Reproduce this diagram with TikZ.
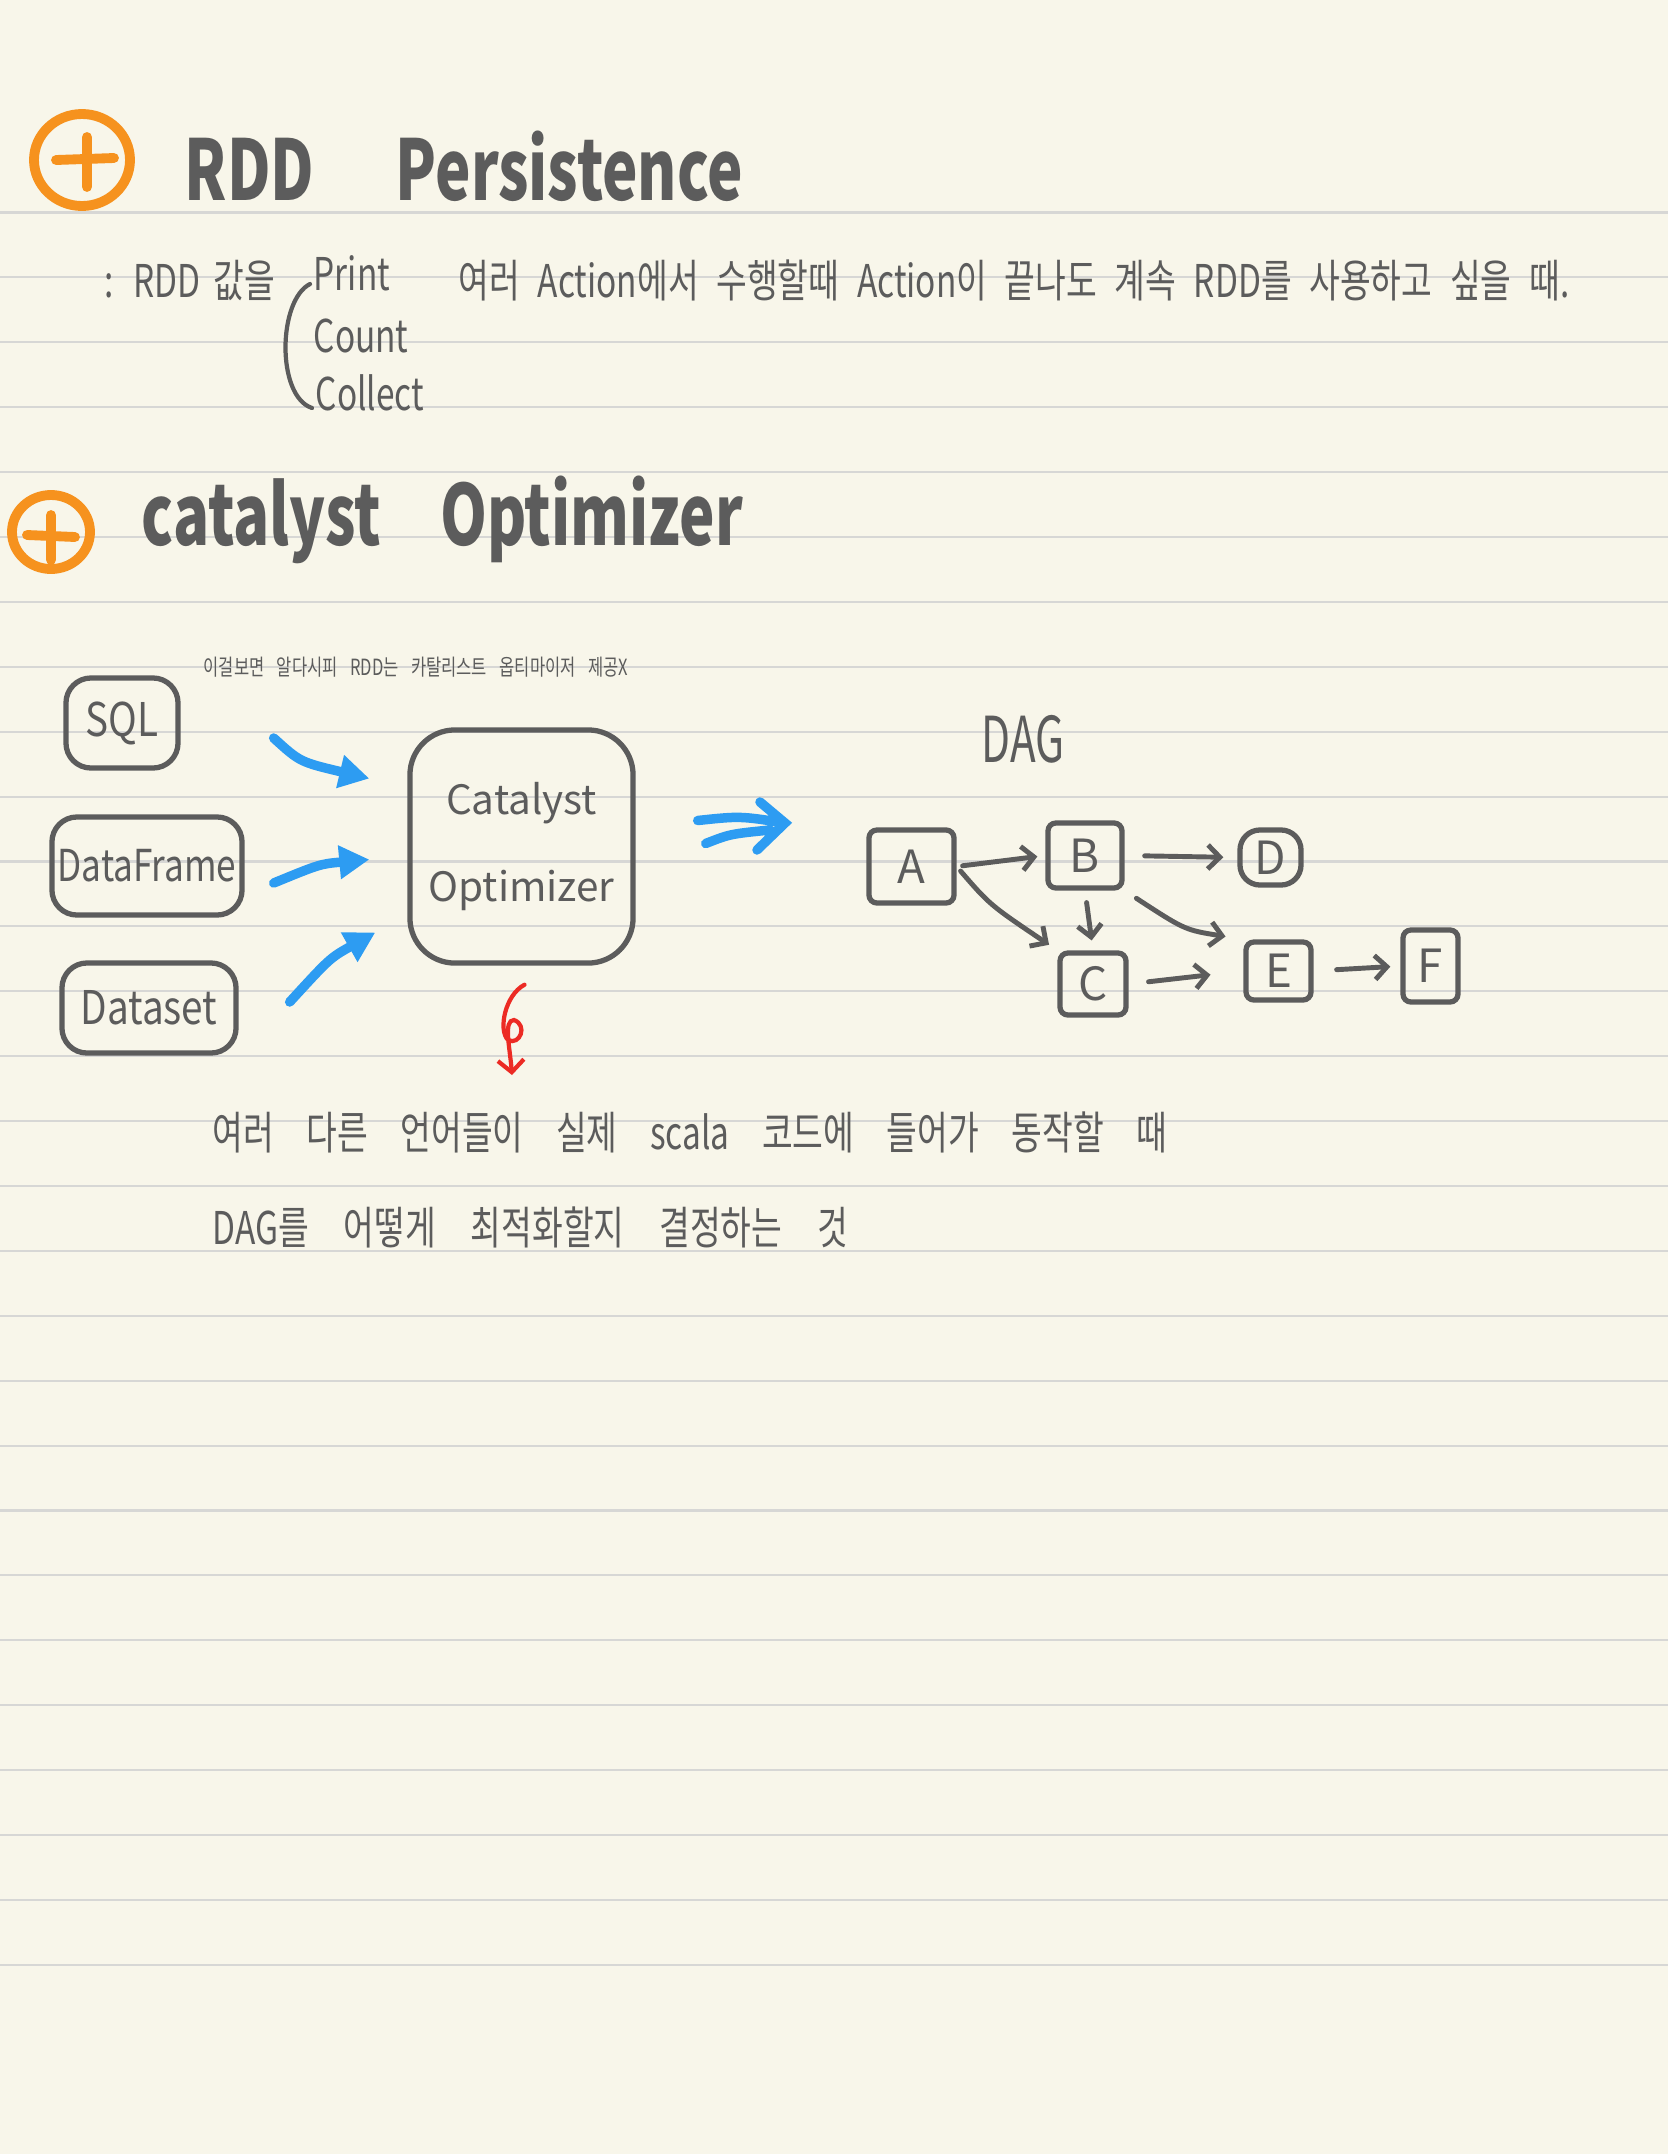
\documentclass[tikz,border=0pt]{standalone}
\usepackage{fontspec}
\setmainfont{Noto Sans CJK KR}
\usetikzlibrary{arrows.meta}

\definecolor{paper}{HTML}{F8F6EA}
\definecolor{ruleline}{HTML}{D7D7D5}
\definecolor{ink}{HTML}{5C5C5C}
\definecolor{orangeink}{HTML}{F6921E}
\definecolor{blueink}{HTML}{2D9CF2}
\definecolor{redink}{HTML}{EC2B24}

\newcommand\tall[2][1.35]{\scalebox{1}[#1]{#2}}
\newcommand\spread[3][1.35]{\tall[#1]{\makebox[#2][s]{#3}}}

\tikzset{
  title/.style={anchor=base west, inner sep=0, text=ink,
    font=\fontsize{17}{17}\selectfont\bfseries},
  note/.style={anchor=base west, inner sep=0, text=ink,
    font=\fontsize{9.5}{11}\selectfont},
  srcbox/.style={draw=ink, line width=1.5pt, rounded corners=0.25cm,
    inner sep=0, text=ink, font=\fontsize{11}{12}\selectfont},
  dagbox/.style={draw=ink, line width=1.5pt, rounded corners=0.08cm,
    inner sep=0, text=ink, font=\fontsize{13}{14}\selectfont},
  flow/.style={blueink, line width=2.7pt, line cap=round,
    -{Triangle[length=0.3cm,width=0.32cm]}},
  dagarrow/.style={ink, line width=1.4pt, line cap=round,
    -{Straight Barb[length=0.12cm,width=0.24cm]}},
  plusmark/.style={orangeink, line width=2.8pt, line cap=round}
}

\begin{document}
\begin{tikzpicture}[x=0.01cm, y=-0.01cm]
  % paper and ruled lines
  \fill[paper] (0,0) rectangle (1668,2154);
  \useasboundingbox (0,0) rectangle (1668,2154);
  \foreach \k in {0,...,27}
    \draw[ruleline, line width=0.6pt] (0,{212.5+64.9*\k}) -- (1668,{212.5+64.9*\k});

  % heading 1
  \draw[plusmark] (82,160) ellipse (48 and 46);
  \draw[plusmark] (56,160) -- (114,158) (87,137) -- (87,187);
  \node[title] (h1) at (184,200) {\spread[1.4]{5.58cm}{RDD Persistence}};

  % RDD note
  \node[note] (rddval) at (104,297) {\spread{1.70cm}{: RDD 값을}};
  \draw[ink, line width=1.2pt, line cap=round] (310,284) .. controls (278,300) and (276,396) .. (312,408);
  \node[note] (print) at (313,290) {\tall{Print}};
  \node[note] (count) at (313,352) {\tall{Count}};
  \node[note] (collect) at (315,410) {\tall{Collect}};
  \node[note] (persist) at (458,297) {\spread{11.10cm}{여러 Action에서 수행할때 Action이 끝나도 계속 RDD를 사용하고 싶을 때.}};

  % heading 2
  \draw[plusmark] (51,532) ellipse (39 and 37);
  \draw[plusmark] (27,535) -- (75,537) (51,515) -- (51,560);
  \node[title] (h2) at (141,545) {\spread[1.4]{6.01cm}{catalyst Optimizer}};

  \node[note, font=\fontsize{4.7}{6}\selectfont] (aside) at (203,675)
    {\spread{4.24cm}{이걸보면 알다시피 RDD는 카탈리스트 옵티마이저 제공X}};

  % sources and optimizer
  \node[srcbox, minimum width=1.12cm, minimum height=0.90cm] (sql) at (122,723) {\tall[1.2]{SQL}};
  \node[srcbox, minimum width=1.90cm, minimum height=0.98cm, font=\fontsize{10}{12}\selectfont] (df) at (147,866) {\tall[1.25]{DataFrame}};
  \node[srcbox, minimum width=1.74cm, minimum height=0.90cm] (ds) at (149,1008) {\tall[1.2]{Dataset}};
  \node[srcbox, rounded corners=0.45cm, minimum width=2.23cm, minimum height=2.33cm,
    align=center, font=\fontsize{11.5}{25}\selectfont] (cat) at (521.5,846.5) {Catalyst\\Optimizer};

  \draw[flow] ([shift={(93,15)}]sql.east) .. controls (300,762) .. ([shift={(-38,-68)}]cat.west);
  \draw[flow] ([shift={(29,17)}]df.east) .. controls (320,864) .. ([shift={(-38,13)}]cat.west);
  \draw[flow] ([shift={(51,-6)}]ds.east) .. controls (330,958) .. ([shift={(-32,86)}]cat.west);

  \draw[redink, line width=1.2pt, line cap=round, -{Straight Barb[length=0.12cm,width=0.26cm]}]
    ([shift={(3,19)}]cat.south) .. controls (505,995) and (498,1030) .. (508,1040)
    .. controls (520,1046) and (528,1025) .. (514,1020)
    .. controls (503,1020) and (510,1048) .. (512,1075);

  % to the DAG
  \coordinate (dagin) at (785,823);
  \draw[blueink, line width=2.7pt, line cap=round]
    ([shift={(62,-26)}]cat.east) .. controls (740,816) .. (dagin)
    ([shift={(70,-3)}]cat.east) .. controls (730,834) .. ([shift={(-15,7)}]dagin)
    ([shift={(-25,-21)}]dagin) -- (dagin) -- ([shift={(-28,27)}]dagin);

  % DAG
  \node[anchor=base west, inner sep=0, text=ink, font=\fontsize{12}{12}\selectfont] (daglabel) at (981,762) {\tall[1.5]{DAG}};
  \node[dagbox, minimum width=0.85cm, minimum height=0.73cm] (A) at (911.5,866.5) {A};
  \node[dagbox, minimum width=0.74cm, minimum height=0.65cm] (B) at (1085,855.5) {B};
  \node[dagbox, rounded corners=0.2cm, minimum width=0.61cm, minimum height=0.55cm] (D) at (1270.5,857.5) {D};
  \node[dagbox, minimum width=0.66cm, minimum height=0.62cm] (C) at (1093,984) {C};
  \node[dagbox, minimum width=0.65cm, minimum height=0.58cm] (E) at (1278.5,971) {E};
  \node[dagbox, minimum width=0.55cm, minimum height=0.72cm] (F) at (1430.5,966) {F};

  \draw[dagarrow, shorten <=0.06cm, shorten >=0.08cm] (A.east) -- (B.west);
  \draw[dagarrow, shorten <=0.06cm, shorten >=0.1cm] (A.east) .. controls (990,905) .. (C.north west);
  \draw[dagarrow, shorten <=0.2cm, shorten >=0.14cm] (B.east) -- (D.west);
  \draw[dagarrow, shorten <=0.12cm, shorten >=0.1cm] (B.south) -- (C.north);
  \draw[dagarrow, shorten <=0.14cm, shorten >=0.18cm] (B.south east) .. controls (1185,930) .. (E.north west);
  \draw[dagarrow, shorten <=0.2cm, shorten >=0.33cm] (C.east) -- (E.west);
  \draw[dagarrow, shorten <=0.23cm, shorten >=0.1cm] (E.east) -- (F.west);

  % explanation
  \node[note] (expl1) at (212,1149) {\spread{9.54cm}{여러 다른 언어들이 실제 scala 코드에 들어가 동작할 때}};
  \node[note] (expl2) at (212,1244) {\spread{6.35cm}{DAG를 어떻게 최적화할지 결정하는 것}};
\end{tikzpicture}
\end{document}
